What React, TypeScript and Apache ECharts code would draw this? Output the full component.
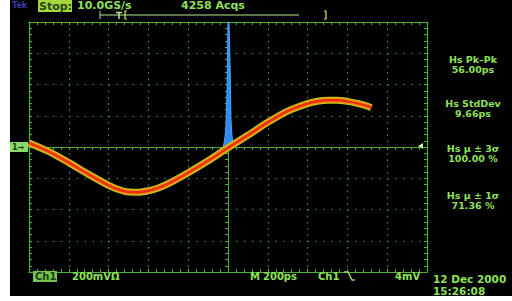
import React, { useEffect, useRef } from "react";
import * as echarts from "echarts";

// Waveform (time in ps, amplitude in mV)
const times = [-1000, -900, -800, -700, -600, -550, -500, -450, -400, -350, -300, -200, -100, 0, 100, 200, 300, 400, 450, 500, 550, 600, 650, 700, 720];
const volts = [26, -30, -100, -175, -245, -272, -288, -289, -280, -262, -235, -165, -88, -5, 75, 158, 230, 278, 293, 300, 300, 292, 279, 262, 252];

// Horizontal histogram of the crossing time
const histTimes = [-25, -20, -15, -10, -5, 0, 5, 10, 15, 20, 25, 30];
const histCounts = [0, 3, 8, 18, 45, 100, 100, 70, 22, 9, 4, 0];

// Measurement readouts
const measNames = ["Hs Pk\u2013Pk", "Hs StdDev", "Hs \u03bc \u00b1 3\u03c3", "Hs \u03bc \u00b1 1\u03c3"];
const measValues = ["56.00ps", "9.66ps", "100.00 %", "71.36 %"];

const headerTexts = ["Tek", "Stop:", "10.0GS/s", "4258 Acqs"];
const footerTexts = ["Ch1", "200mV\u03a9", "M", "200ps", "Ch1", "4mV"];
const dateTexts = ["12 Dec 2000", "15:26:08"];

const GREEN = "#4fb236";
const DOT = "#3a9e2c";
const TXT = "#8ee05a";
const FONT = "DejaVu Sans";

export default function App() {
  const ref = useRef<HTMLDivElement>(null);
  useEffect(() => {
    if (!ref.current) return;
    const chart = echarts.init(ref.current, undefined, { renderer: "svg" });
    const wave = times.map((t, i) => [t, volts[i]]);
    const hist = histTimes.map((t, i) => [t, histCounts[i]]);

    const txt = (text: string, x: number, y: number, extra: any = {}) => ({
      type: "text",
      x,
      y,
      z: 50,
      style: {
        text,
        fill: TXT,
        font: `bold 10px "${FONT}"`,
        textVerticalAlign: "middle",
        ...extra,
      },
    });

    const measY = [64.5, 108.5, 153.5, 200.5];
    const graphics: any[] = [];
    measNames.forEach((n, i) => {
      graphics.push(
        txt(n + "\n" + measValues[i], 473, measY[i], {
          textAlign: "center",
          lineHeight: 9.5,
          font: `bold 9.5px "${FONT}"`,
        })
      );
    });
    // header
    graphics.push(txt(headerTexts[0], 12, 5, { fill: "#3c3ca8", font: `bold 8px "${FONT}"` }));
    graphics.push({ type: "rect", z: 49, shape: { x: 38, y: 0, width: 34, height: 12 }, style: { fill: "#a6d63c" } });
    graphics.push(txt(headerTexts[1], 39, 6, { fill: "#1f4a10", font: `bold 11px "${FONT}"` }));
    graphics.push(txt(headerTexts[2], 77, 5.5, { font: `bold 11px "${FONT}"` }));
    graphics.push(txt(headerTexts[3], 181, 5.5, { font: `bold 11px "${FONT}"` }));
    // trigger position bar
    const bar = "#b8e890";
    graphics.push({ type: "line", z: 50, shape: { x1: 100, y1: 15, x2: 299, y2: 15 }, style: { stroke: bar, lineWidth: 1 } });
    graphics.push({ type: "line", z: 50, shape: { x1: 100, y1: 11, x2: 100, y2: 19 }, style: { stroke: bar, lineWidth: 1 } });
    graphics.push({ type: "line", z: 50, shape: { x1: 116, y1: 12.5, x2: 122, y2: 12.5 }, style: { stroke: bar, lineWidth: 1.5 } });
    graphics.push({ type: "line", z: 50, shape: { x1: 119, y1: 12.5, x2: 119, y2: 19 }, style: { stroke: bar, lineWidth: 1.5 } });
    graphics.push({ type: "polyline", z: 50, shape: { points: [[127, 11], [125, 11], [125, 19], [127, 19]] }, style: { stroke: "#d8e860", lineWidth: 1.2, fill: "none" } });
    graphics.push({ type: "polyline", z: 50, shape: { points: [[324, 11], [326, 11], [326, 19], [324, 19]] }, style: { stroke: "#d8e860", lineWidth: 1.2, fill: "none" } });
    // footer
    graphics.push({ type: "rect", z: 49, shape: { x: 33, y: 271, width: 24, height: 11 }, style: { fill: "#74c455" } });
    graphics.push(txt(footerTexts[0], 35, 276.5, { fill: "#173d0c" }));
    graphics.push(txt(footerTexts[1], 72, 276));
    graphics.push(txt(footerTexts[2], 250, 276));
    graphics.push(txt(footerTexts[3], 263, 276));
    graphics.push(txt(footerTexts[4], 318, 276));
    graphics.push({ type: "polyline", z: 50, shape: { points: [[344, 272], [348, 272], [352, 280], [355, 280]] }, style: { stroke: TXT, lineWidth: 1.5, fill: "none" } });
    graphics.push(txt(footerTexts[5], 395, 276));
    graphics.push(txt(dateTexts[0] + "\n" + dateTexts[1], 433, 285, { font: `bold 10.5px "${FONT}"`, lineHeight: 11.5 }));
    // channel marker and trigger level marker
    graphics.push({ type: "rect", z: 49, shape: { x: 10, y: 142, width: 18, height: 10 }, style: { fill: "#8cd86a" } });
    graphics.push(txt("1\u2192", 12, 147, { fill: "#173d0c", font: `bold 8px "${FONT}"` }));
    graphics.push({ type: "polygon", z: 50, shape: { points: [[418, 146], [423, 143], [423, 149]] }, style: { fill: "#c8f0b0" } });

    const centerAxisCommon = {
      axisLabel: { show: false },
      axisLine: { show: true, onZero: true, lineStyle: { color: GREEN, width: 1 } },
      axisTick: { show: true, length: 3, lineStyle: { color: GREEN } },
      minorTick: { show: true, splitNumber: 5, length: 3, lineStyle: { color: GREEN } },
    };
    const edgeAxis = (position: string) => ({
      type: "value",
      position,
      axisLabel: { show: false },
      axisLine: { show: true, onZero: false, lineStyle: { color: GREEN, width: 1.2 } },
      axisTick: { show: true, inside: true, length: 3, lineStyle: { color: GREEN } },
      minorTick: { show: true, splitNumber: 5, length: 3, lineStyle: { color: GREEN } },
      splitLine: { show: false },
    });

    chart.setOption({
      animation: false,
      backgroundColor: "transparent",
      grid: { left: 29, top: 22, width: 398, height: 250, show: false },
      xAxis: [
        {
          type: "value",
          min: -1000,
          max: 1000,
          interval: 200,
          ...centerAxisCommon,
          splitLine: { show: true, lineStyle: { color: DOT, type: [1.4, 4.85], width: 1.2 } },
        },
        { ...edgeAxis("top"), min: -1000, max: 1000, interval: 200 },
        { ...edgeAxis("bottom"), min: -1000, max: 1000, interval: 200 },
      ],
      yAxis: [
        {
          type: "value",
          min: -800,
          max: 800,
          interval: 200,
          ...centerAxisCommon,
          splitLine: { show: true, lineStyle: { color: DOT, type: [1.4, 6.56], width: 1.2 } },
        },
        { ...edgeAxis("left"), min: -800, max: 800, interval: 200 },
        { ...edgeAxis("right"), min: -800, max: 800, interval: 200 },
        { type: "value", min: -100, max: 100, show: false, position: "left" },
      ],
      series: [
        {
          type: "line",
          data: hist,
          xAxisIndex: 0,
          yAxisIndex: 3,
          showSymbol: false,
          z: 3,
          lineStyle: { color: "#4aa6ff", width: 1 },
          areaStyle: { color: "#2f8cf2", opacity: 1 },
        },
        {
          type: "line",
          data: wave,
          smooth: 0.3,
          showSymbol: false,
          z: 4,
          lineStyle: { color: "#b4cc22", width: 7 },
        },
        {
          type: "line",
          data: wave,
          smooth: 0.3,
          showSymbol: false,
          z: 5,
          lineStyle: { color: "#ff8a12", width: 5 },
        },
        {
          type: "line",
          data: wave,
          smooth: 0.3,
          showSymbol: false,
          z: 6,
          lineStyle: { color: "#e5300e", width: 2.5 },
        },
      ],
      graphic: graphics,
    });
    return () => chart.dispose();
  }, []);

  return (
    <div style={{ position: "fixed", left: 0, top: 0, width: 512, height: 301, background: "#fff" }}>
      <div style={{ position: "absolute", left: 10, top: 0, width: 502, height: 296, background: "#000" }} />
      <div ref={ref} style={{ position: "absolute", left: 0, top: 0, width: 512, height: 301 }} />
    </div>
  );
}
